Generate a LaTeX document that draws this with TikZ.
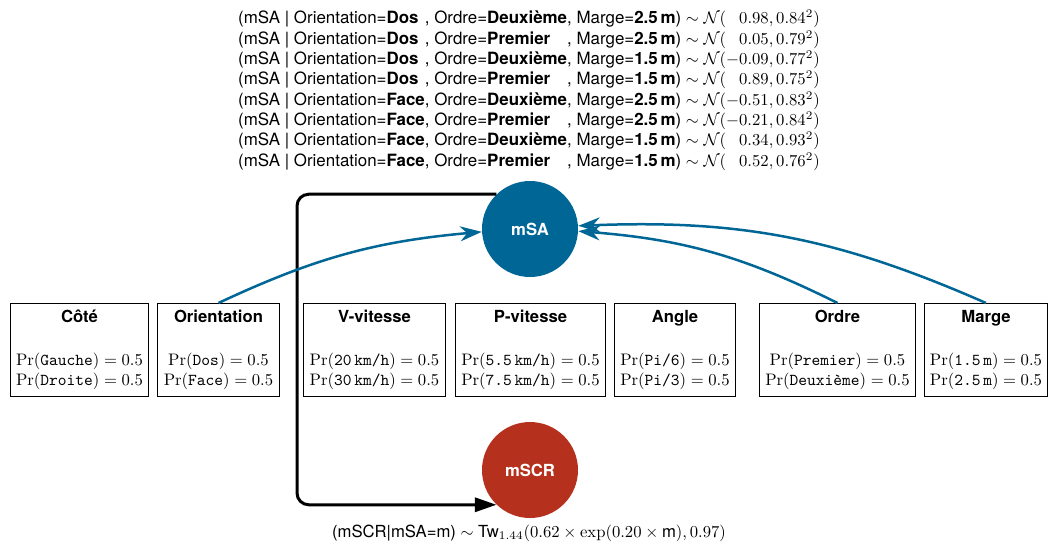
\documentclass[tikz,border=0pt]{standalone}
\usepackage{amsmath}
\usepackage{fontspec}
\setsansfont{TeX Gyre Heros}
\usetikzlibrary{arrows.meta}
\definecolor{msablue}{RGB}{0,102,150}
\definecolor{mscrred}{RGB}{182,48,30}

\begin{document}
\begin{tikzpicture}[
    x=0.6pt, y=-0.6pt,
    font=\sffamily,
    varbox/.style={rectangle, draw, line width=0.6pt, minimum height=55.8pt, inner xsep=3.5pt, align=center},
    latent/.style={circle, minimum size=57.6pt, inner sep=0pt, text=white, font=\sffamily\bfseries},
    influence/.style={-{Stealth[length=13pt, width=9pt]}, line width=1.5pt, msablue},
    flow/.style={-{Triangle[length=13pt, width=8.5pt]}, line width=1.8pt, rounded corners=7pt},
]
\useasboundingbox (0,0) rectangle (1048,543);

% Conditional table of mSA
\node[font=\sffamily\fontsize{10.15}{12.2}\selectfont] (table) at (529,91) {
    \begin{tabular}{@{}l@{}l@{}l@{}r@{}l@{}}
    (mSA | Orientation=\textbf{Dos} & , Ordre=\textbf{Deuxième} & , Marge=\textbf{2.5\,m}) $\sim\mathcal{N}($ & $0.98$ & $, 0.84^2)$\\
    (mSA | Orientation=\textbf{Dos} & , Ordre=\textbf{Premier} & , Marge=\textbf{2.5\,m}) $\sim\mathcal{N}($ & $0.05$ & $, 0.79^2)$\\
    (mSA | Orientation=\textbf{Dos} & , Ordre=\textbf{Deuxième} & , Marge=\textbf{1.5\,m}) $\sim\mathcal{N}($ & $-0.09$ & $, 0.77^2)$\\
    (mSA | Orientation=\textbf{Dos} & , Ordre=\textbf{Premier} & , Marge=\textbf{1.5\,m}) $\sim\mathcal{N}($ & $0.89$ & $, 0.75^2)$\\
    (mSA | Orientation=\textbf{Face} & , Ordre=\textbf{Deuxième} & , Marge=\textbf{2.5\,m}) $\sim\mathcal{N}($ & $-0.51$ & $, 0.83^2)$\\
    (mSA | Orientation=\textbf{Face} & , Ordre=\textbf{Premier} & , Marge=\textbf{2.5\,m}) $\sim\mathcal{N}($ & $-0.21$ & $, 0.84^2)$\\
    (mSA | Orientation=\textbf{Face} & , Ordre=\textbf{Deuxième} & , Marge=\textbf{1.5\,m}) $\sim\mathcal{N}($ & $0.34$ & $, 0.93^2)$\\
    (mSA | Orientation=\textbf{Face} & , Ordre=\textbf{Premier} & , Marge=\textbf{1.5\,m}) $\sim\mathcal{N}($ & $0.52$ & $, 0.76^2)$
    \end{tabular}
};

% Latent nodes
\node[latent, fill=msablue] (msa) at (530,229) {mSA};
\node[latent, fill=mscrred] (mscr) at (530,470) {mSCR};
\node (law) at (529,533) {(mSCR|mSA=m) $\sim$ Tw$_{1.44}(0.62\times\exp(0.20\times\text{m}), 0.97)$};

% Variables
\node[varbox] (cote) at (79.5,350) {\textbf{Côté}\\[14pt]
    $\Pr(\texttt{Gauche}) = 0.5$\\ $\Pr(\texttt{Droite}) = 0.5$};
\node[varbox] (orient) at (218.5,350) {\textbf{Orientation}\\[14pt]
    $\Pr(\texttt{Dos}) = 0.5$\\ $\Pr(\texttt{Face}) = 0.5$};
\node[varbox] (vvit) at (374.5,350) {\textbf{V-vitesse}\\[14pt]
    $\Pr(\texttt{20\,km/h}) = 0.5$\\ $\Pr(\texttt{30\,km/h}) = 0.5$};
\node[varbox] (pvit) at (530.5,350) {\textbf{P-vitesse}\\[14pt]
    $\Pr(\texttt{5.5\,km/h}) = 0.5$\\ $\Pr(\texttt{7.5\,km/h}) = 0.5$};
\node[varbox] (ang) at (675,350) {\textbf{Angle}\\[14pt]
    $\Pr(\texttt{Pi/6}) = 0.5$\\ $\Pr(\texttt{Pi/3}) = 0.5$};
\node[varbox] (ordre) at (837.5,350) {\textbf{Ordre}\\[14pt]
    $\Pr(\texttt{Premier}) = 0.5$\\ $\Pr(\texttt{Deuxième}) = 0.5$};
\node[varbox] (marge) at (986,350) {\textbf{Marge}\\[14pt]
    $\Pr(\texttt{1.5\,m}) = 0.5$\\ $\Pr(\texttt{2.5\,m}) = 0.5$};

% Arrows
\coordinate (turn) at (297,350);
\draw[flow] (msa.134) -| (turn) |- (mscr.226);
\draw[influence] (orient.north) to[bend left=10] (msa);
\draw[influence] (ordre.north) to[bend right=11] (msa);
\draw[influence] (marge.north) to[bend right=13] (msa);

\end{tikzpicture}
\end{document}
